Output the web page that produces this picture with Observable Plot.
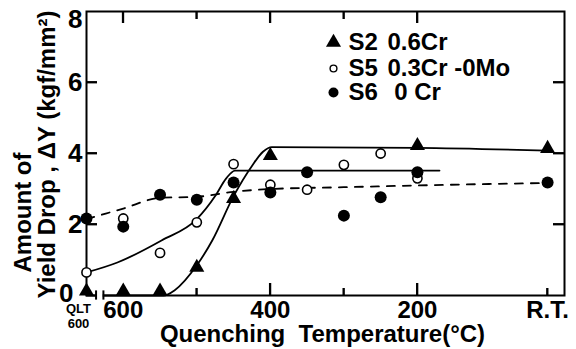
<!DOCTYPE html>
<html><head><meta charset="utf-8">
<script src="https://cdn.jsdelivr.net/npm/d3@7"></script>
<script src="https://cdn.jsdelivr.net/npm/@observablehq/plot@0.6"></script>
<style>
html,body{margin:0;padding:0;background:#fff}
#chart{width:576px;height:349px}
</style>
</head><body><div id="chart"></div>
<script>
// Quenching temperature positions (°C); QLT 600 and room temperature placed on the same axis
const QLT = 650, RT = 23;
const temps    = [QLT, 600, 550, 500, 450, 400, 350, 300, 250, 200, RT];
const s2Values = [0.12, 0.12, 0.12, 0.79, 2.73, 3.94, null, null, null, 4.22, 4.14];
const s5Values = [0.65, 2.17, 1.2, 2.06, 3.7, 3.12, 2.98, 3.68, 4.0, 3.3, null];
const s6Values = [2.17, 1.94, 2.84, 2.7, 3.18, 2.9, 3.47, 2.25, 2.77, 3.47, 3.18];

// hand-drawn trend curves
const s2FitT = [650, 545, 530, 500, 479, 450, 425, 410, 398, 200, 23];
const s2FitV = [0, 0, 0.15, 0.85, 1.55, 2.8, 3.65, 4.05, 4.18, 4.16, 4.08];
const s5FitT = [650, 608, 548, 500, 475, 460, 448, 170];
const s5FitV = [0.65, 0.93, 1.55, 2.15, 2.8, 3.3, 3.52, 3.52];
const s6FitT = [650, 600, 550, 500, 450, 400, 300, 200, 23];
const s6FitV = [2.15, 2.45, 2.75, 2.78, 2.92, 3.0, 3.05, 3.1, 3.17];

const seriesNames  = ["S2", "S5", "S6"];
const seriesLabels = ["0.6Cr", "0.3Cr -0Mo", " 0 Cr"];

const yTickLabels  = [2, 4, 6];
const yInnerTicks  = [2, 4, 6];
const xTickValues  = [600, 400, 200, RT];
const xTickLabels  = ["600", "400", "200", "R.T."];
const xMajorBottom = [400, 200];
const xMinorBottom = [500, 300, RT];
const xMajorTop    = [600, 400, 200];
const xMinorTop    = [500, 300];
const qltLabel     = "QLT\n600";
const axisBreak    = [637, 627];
const xLabel  = "Quenching  Temperature(°C)";
const yLabel1 = "Amount of";
const yLabel2 = "Yield Drop , ΔY (kgf/mm²)";

const pts = (vals) => temps.map((t, i) => ({t, v: vals[i]})).filter(d => d.v != null);
const fit = (T, V) => T.map((t, i) => ({t, v: V[i]}));

const W = 576, H = 349, mL = 86, mR = 12, mT = 11, mB = 54;
const fw = W - mL - mR, fh = H - mT - mB;

const styles = [
  {symbol: "triangle", r: 5.6, fill: "black", stroke: "none", legendR: 5.6},
  {symbol: "circle", r: 4.6, fill: "white", stroke: "black", legendR: 3.4},
  {symbol: "circle", r: 6, fill: "black", stroke: "none", legendR: 5}
];
const legendDy = [31, 57, 81];
const tickColor = "black";
const yFont = "'Liberation Sans Narrow', 'Liberation Sans', Arial, sans-serif";

const chart = Plot.plot({
  width: W, height: H,
  marginLeft: mL, marginRight: mR, marginTop: mT, marginBottom: mB,
  x: {domain: [650, 0]},
  y: {domain: [0, 8]},
  style: {fontFamily: "'Liberation Sans', Arial, sans-serif", fontWeight: "bold", fontSize: "24px", color: "black", background: "white"},
  marks: [
    Plot.frame({strokeWidth: 2}),
    // inward ticks
    Plot.ruleX(xMajorBottom, {x: d => d, insetTop: fh - 12, stroke: tickColor, strokeWidth: 1.8}),
    Plot.ruleX(xMinorBottom, {x: d => d, insetTop: fh - 7, stroke: tickColor, strokeWidth: 1.8}),
    Plot.ruleX(xMajorTop, {x: d => d, insetBottom: fh - 12, stroke: tickColor, strokeWidth: 1.8}),
    Plot.ruleX(xMinorTop, {x: d => d, insetBottom: fh - 8, stroke: tickColor, strokeWidth: 1.8}),
    Plot.ruleY(yInnerTicks, {y: d => d, insetRight: fw - 11, stroke: tickColor, strokeWidth: 1.8}),
    Plot.ruleY(yInnerTicks, {y: d => d, insetLeft: fw - 11, stroke: tickColor, strokeWidth: 1.8}),
    // tick labels
    Plot.axisX({anchor: "bottom", ticks: xTickValues, tickSize: 0, tickPadding: 5, label: null,
      tickFormat: d => xTickLabels[xTickValues.indexOf(d)]}),
    Plot.axisY({anchor: "left", ticks: yTickLabels, tickSize: 0, tickPadding: 4, label: null, fontSize: 26, fontFamily: yFont}),
    Plot.axisY({anchor: "left", ticks: [8], tickSize: 0, tickPadding: 4, dy: 8, label: null, fontSize: 26, fontFamily: yFont}),
    Plot.axisY({anchor: "left", ticks: [0], tickSize: 0, tickPadding: 13, dy: -2, label: null, fontSize: 26, fontFamily: yFont}),
    Plot.text([qltLabel], {x: QLT, frameAnchor: "bottom", dx: -8, dy: 8, lineAnchor: "top", textAnchor: "middle",
      fontSize: 13, lineHeight: 1.08, style: "letter-spacing:3px"}),
    // trend lines
    Plot.line(fit(s6FitT, s6FitV), {x: "t", y: "v", curve: "monotone-x", stroke: "black", strokeWidth: 1.8, strokeDasharray: "8,8"}),
    Plot.line(fit(s5FitT, s5FitV), {x: "t", y: "v", curve: "monotone-x", stroke: "black", strokeWidth: 1.8}),
    Plot.line(fit(s2FitT, s2FitV), {x: "t", y: "v", curve: "monotone-x", stroke: "black", strokeWidth: 1.8}),
    // axis break
    Plot.ruleX([d3.mean(axisBreak)], {y1: -0.12, y2: 0.12, stroke: "white", strokeWidth: 6}),
    Plot.ruleX(axisBreak, {y1: -0.13, y2: 0.13, stroke: "black", strokeWidth: 2}),
    // data points
    Plot.dot(pts(s5Values), {x: "t", y: "v", symbol: "circle", r: styles[1].r, fill: "white", stroke: "black", strokeWidth: 1.6}),
    Plot.dot(pts(s6Values), {x: "t", y: "v", symbol: "circle", r: styles[2].r, fill: "black"}),
    Plot.dot(pts(s2Values), {x: "t", y: "v", symbol: "triangle", r: styles[0].r, fill: "black"}),
    // legend
    ...seriesNames.flatMap((name, i) => [
      Plot.dot([name], {frameAnchor: "top-left", dx: 247, dy: legendDy[i], symbol: styles[i].symbol, r: styles[i].legendR,
        fill: styles[i].fill, stroke: styles[i].stroke, strokeWidth: 1.4}),
      Plot.text([name], {frameAnchor: "top-left", dx: 262, dy: legendDy[i], textAnchor: "start", lineAnchor: "middle", fontSize: 24}),
      Plot.text([seriesLabels[i]], {frameAnchor: "top-left", dx: 301, dy: legendDy[i], textAnchor: "start", lineAnchor: "middle", fontSize: 24})
    ]),
    // axis titles
    Plot.text([xLabel], {frameAnchor: "bottom", dx: -3, dy: 39, textAnchor: "middle", lineAnchor: "middle", fontSize: 24, style: "letter-spacing:1px"}),
    Plot.text([yLabel1], {frameAnchor: "left", rotate: -90, dx: -63, dy: 59, textAnchor: "middle", lineAnchor: "middle", fontSize: 24, style: "letter-spacing:1px"}),
    Plot.text([yLabel2], {frameAnchor: "left", rotate: -90, dx: -39, dy: 1, textAnchor: "middle", lineAnchor: "middle", fontSize: 24})
  ]
});
document.getElementById("chart").append(chart);

// Inward frame ticks, also placed through Plot's own x/y scales (safety layer in case the rules above are hidden)
(function addInnerTicks() {
  const sx = chart.scale("x"), sy = chart.scale("y");
  const y0 = sy.apply(0), y8 = sy.apply(8), xL = sx.apply(650), xR = sx.apply(0);
  const g = d3.select(chart).append("g").attr("stroke", tickColor).attr("stroke-width", 1.8);
  const vt = (vals, len, atBottom) => vals.forEach(v => {
    const px = sx.apply(v);
    const yb = atBottom ? y0 : y8;
    g.append("line").attr("x1", px).attr("x2", px).attr("y1", yb).attr("y2", atBottom ? yb - len : yb + len);
  });
  vt(xMajorBottom, 12, true);
  vt(xMinorBottom, 7, true);
  vt(xMajorTop, 12, false);
  vt(xMinorTop, 8, false);
  yInnerTicks.forEach(v => {
    const py = sy.apply(v);
    g.append("line").attr("x1", xL).attr("x2", xL + 11).attr("y1", py).attr("y2", py);
    g.append("line").attr("x1", xR).attr("x2", xR - 11).attr("y1", py).attr("y2", py);
  });
})();
</script>
</body></html>
